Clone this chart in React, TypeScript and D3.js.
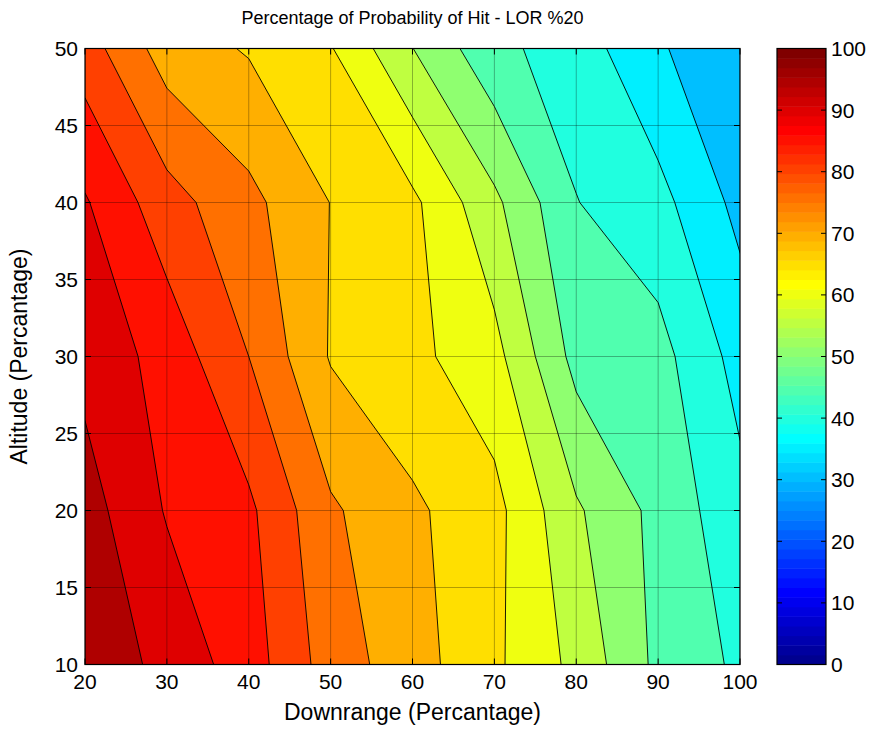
import React from "react";
import * as d3 from "d3";

// Grid of the surface (rows = altitude, cols = downrange)
const downrange = [20, 30, 40, 50, 60, 70, 80, 90, 100];
const altitude = [10, 20, 30, 40, 50];
const row10 = [98.8, 93.4, 87.45, 77.65, 72.1, 65.95, 58.65, 48.8, 44.1];
const row20 = [97.1, 89.6, 86.0, 75.75, 70.9, 66.6, 55.7, 48.5, 41.6];
const row30 = [93.5, 88.1, 80.0, 69.6, 66.3, 61.7, 48.3, 46.8, 38.1];
const row40 = [90.5, 82.0, 76.4, 69.9, 66.1, 56.1, 45.15, 41.66, 33.5];
const row50 = [82.4, 72.57, 69.55, 65.33, 55.08, 46.31, 42.59, 35.59, 31.0];
const levels = d3.range(0, 100, 5);
const xTicks = [20, 30, 40, 50, 60, 70, 80, 90, 100];
const yTicks = [10, 15, 20, 25, 30, 35, 40, 45, 50];
const cbTicks = [0, 10, 20, 30, 40, 50, 60, 70, 80, 90, 100];

const titleText = "Percentage of Probability of Hit - LOR %20";
const xLabel = "Downrange (Percantage)";
const yLabel = "Altitude (Percantage)";

// MATLAB jet(64)
function jet(m: number): string[] {
  const n = Math.ceil(m / 4);
  const u: number[] = [];
  for (let i = 1; i <= n; i++) u.push(i / n);
  for (let i = 1; i < n; i++) u.push(1);
  for (let i = n; i >= 1; i--) u.push(i / n);
  const g0 = Math.ceil(n / 2) - (m % 4 === 1 ? 1 : 0);
  const J = Array.from({ length: m }, () => [0, 0, 0]);
  const L = u.length;
  const gIdx: number[] = [], rIdx: number[] = [], bIdx: number[] = [];
  for (let k = 1; k <= L; k++) {
    const g = g0 + k;
    if (g <= m) gIdx.push(g);
    if (g + n <= m) rIdx.push(g + n);
    if (g - n >= 1) bIdx.push(g - n);
  }
  rIdx.forEach((r, i) => (J[r - 1][0] = u[i]));
  gIdx.forEach((g, i) => (J[g - 1][1] = u[i]));
  bIdx.forEach((b, i) => (J[b - 1][2] = u[L - bIdx.length + i]));
  return J.map((c) => d3.rgb(c[0] * 255, c[1] * 255, c[2] * 255).formatHex());
}
const cmap = jet(64);
const colorOf = (v: number) => cmap[Math.max(0, Math.min(63, Math.floor((v / 100) * 64 + 1e-9)))];

export default function App() {
  const W = 874, H = 731;
  const px0 = 85, px1 = 740, py0 = 48.5, py1 = 664.5;
  const xs = d3.scaleLinear().domain([20, 100]).range([px0, px1]);
  const ys = d3.scaleLinear().domain([10, 50]).range([py1, py0]);
  const cbx0 = 777, cbx1 = 826;
  const cs = d3.scaleLinear().domain([0, 100]).range([py1, py0]);

  const rows = [row10, row20, row30, row40, row50];
  const values: number[] = [];
  rows.forEach((r) => r.forEach((v) => values.push(v)));
  const nx = downrange.length, ny = altitude.length;
  const contours = d3.contours().size([nx, ny]).thresholds(levels)(values);
  const dx = downrange[1] - downrange[0];
  const dy = altitude[1] - altitude[0];
  const proj = d3.geoTransform({
    point(x: number, y: number) {
      (this as any).stream.point(xs(downrange[0] + (x - 0.5) * dx), ys(altitude[0] + (y - 0.5) * dy));
    },
  });
  const path = d3.geoPath(proj as any);

  const font = "'Liberation Sans', Arial, Helvetica, sans-serif";
  const tickLen = 6;
  const tickFs = 21;
  const labelFs = 23;

  return (
    <svg width={W} height={H} style={{ position: "absolute", left: 0, top: 0, background: "#fff" }} fontFamily={font}>
      <defs>
        <clipPath id="plotclip">
          <rect x={px0} y={py0} width={px1 - px0} height={py1 - py0} />
        </clipPath>
      </defs>
      <g clipPath="url(#plotclip)">
        {contours.map((c, i) => (
          <path key={"f" + i} d={path(c as any) || ""} fill={colorOf(c.value)} stroke="none" />
        ))}
        {contours.map((c, i) => (
          <path key={"s" + i} d={path(c as any) || ""} fill="none" stroke="#000" strokeWidth={0.9} />
        ))}
        {xTicks.map((t) => (
          <line key={"gx" + t} x1={xs(t)} x2={xs(t)} y1={py0} y2={py1} stroke="#000" strokeOpacity={0.3} strokeWidth={1} />
        ))}
        {yTicks.map((t) => (
          <line key={"gy" + t} x1={px0} x2={px1} y1={ys(t)} y2={ys(t)} stroke="#000" strokeOpacity={0.3} strokeWidth={1} />
        ))}
      </g>
      {/* ticks */}
      {xTicks.map((t) => (
        <g key={"tx" + t}>
          <line x1={xs(t)} x2={xs(t)} y1={py1} y2={py1 - tickLen} stroke="#000" />
          <line x1={xs(t)} x2={xs(t)} y1={py0} y2={py0 + tickLen} stroke="#000" />
          <text x={xs(t)} y={689} textAnchor="middle" fontSize={tickFs}>{t}</text>
        </g>
      ))}
      {yTicks.map((t) => (
        <g key={"ty" + t}>
          <line x1={px0} x2={px0 + tickLen} y1={ys(t)} y2={ys(t)} stroke="#000" />
          <line x1={px1} x2={px1 - tickLen} y1={ys(t)} y2={ys(t)} stroke="#000" />
          <text x={78} y={ys(t) + 7.5} textAnchor="end" fontSize={tickFs}>{t}</text>
        </g>
      ))}
      <rect x={px0} y={py0} width={px1 - px0} height={py1 - py0} fill="none" stroke="#000" strokeWidth={1.2} />

      {/* colorbar */}
      {cmap.map((c, k) => (
        <rect key={"cb" + k} x={cbx0} y={cs(((k + 1) * 100) / 64)} width={cbx1 - cbx0} height={cs((k * 100) / 64) - cs(((k + 1) * 100) / 64) + 0.5} fill={c} />
      ))}
      <rect x={cbx0} y={py0} width={cbx1 - cbx0} height={py1 - py0} fill="none" stroke="#000" strokeWidth={1.2} />
      {cbTicks.map((t) => (
        <g key={"cbt" + t}>
          <line x1={cbx0} x2={cbx0 + 5} y1={cs(t)} y2={cs(t)} stroke="#000" />
          <line x1={cbx1} x2={cbx1 - 5} y1={cs(t)} y2={cs(t)} stroke="#000" />
          <text x={831} y={cs(t) + 7.5} textAnchor="start" fontSize={tickFs}>{t}</text>
        </g>
      ))}

      <text x={(px0 + px1) / 2} y={24} textAnchor="middle" fontSize={18}>{titleText}</text>
      <text x={(px0 + px1) / 2} y={720} textAnchor="middle" fontSize={labelFs}>{xLabel}</text>
      <text transform={`translate(27, ${(py0 + py1) / 2}) rotate(-90)`} textAnchor="middle" fontSize={labelFs}>{yLabel}</text>
    </svg>
  );
}
